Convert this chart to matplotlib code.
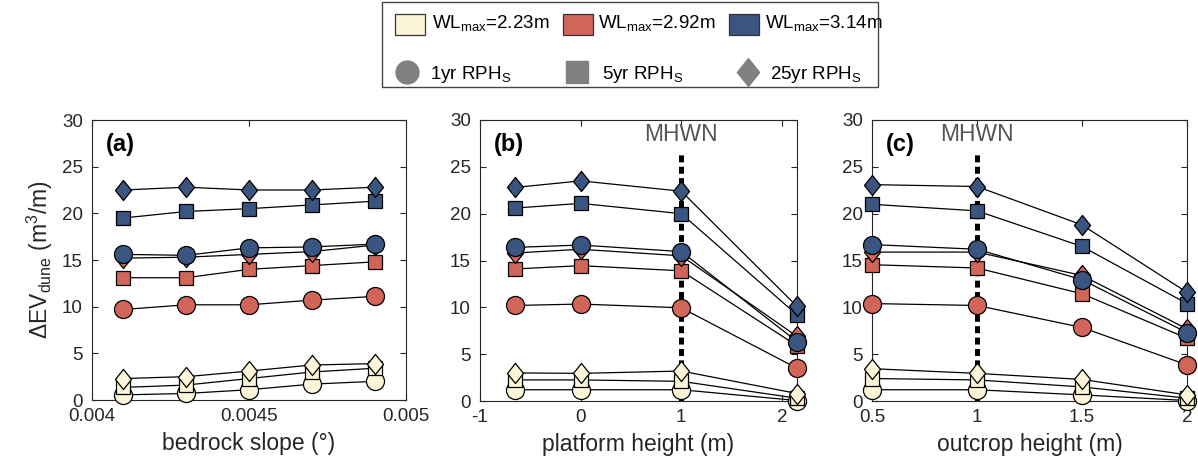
import matplotlib
matplotlib.use("Agg")
import matplotlib.pyplot as plt
from matplotlib.patches import Rectangle
from matplotlib.path import Path

plt.rcParams['font.family'] = ['Liberation Sans', 'DejaVu Sans']
plt.rcParams['mathtext.fontset'] = 'custom'
plt.rcParams['mathtext.rm'] = 'Liberation Sans'
plt.rcParams['mathtext.it'] = 'Liberation Sans:italic'
plt.rcParams['mathtext.bf'] = 'Liberation Sans:bold'
plt.rcParams['lines.scale_dashes'] = False

# ---- data -------------------------------------------------------------
water_levels = ['2.23', '2.92', '3.14']
return_periods = ['1yr', '5yr', '25yr']

slope = [0.0041, 0.0043, 0.0045, 0.0047, 0.0049]
platform = [-0.65, 0, 1, 2.15]
outcrop = [0.5, 1, 1.5, 2]

# rows: 1yr, 5yr, 25yr return-period wave heights
a_wl223 = [[0.55, 0.7, 1.1, 1.7, 2.0], [1.35, 1.6, 2.3, 3.0, 3.4], [2.3, 2.5, 3.1, 3.75, 3.9]]
a_wl292 = [[9.7, 10.2, 10.2, 10.7, 11.1], [13.1, 13.1, 14.0, 14.4, 14.8], [15.2, 15.3, 15.6, 15.9, 16.6]]
a_wl314 = [[15.6, 15.5, 16.3, 16.4, 16.7], [19.5, 20.2, 20.5, 20.9, 21.3], [22.5, 22.8, 22.5, 22.5, 22.8]]

b_wl223 = [[1.2, 1.2, 1.2, 0.05], [2.25, 2.25, 2.1, 0.3], [3.0, 2.95, 3.2, 0.8]]
b_wl292 = [[10.2, 10.35, 9.95, 3.5], [14.1, 14.45, 13.9, 5.9], [15.8, 16.2, 15.5, 6.9]]
b_wl314 = [[16.4, 16.65, 15.95, 6.35], [20.6, 21.1, 20.0, 9.2], [22.8, 23.5, 22.4, 10.1]]

c_wl223 = [[1.2, 1.2, 0.65, 0.05], [2.4, 2.25, 1.5, 0.3], [3.45, 2.95, 2.3, 0.65]]
c_wl292 = [[10.4, 10.2, 7.85, 3.85], [14.55, 14.2, 11.45, 6.7], [15.9, 15.9, 13.4, 7.7]]
c_wl314 = [[16.7, 16.2, 12.95, 7.3], [21.0, 20.3, 16.5, 10.4], [23.1, 22.9, 18.8, 11.6]]

mhwn_level = 1.0

# ---- styles ------------------------------------------------------------
wl_colors = ['#FDF5D8', '#D1655A', '#3A5580']
diamond = Path([(0, 1), (0.8, 0), (0, -1), (-0.8, 0), (0, 1)],
               [Path.MOVETO, Path.LINETO, Path.LINETO, Path.LINETO, Path.CLOSEPOLY])
markers = ['o', 's', diamond]
msizes = [13, 10.5, 14.5]
ink = '#262626'

W, H = 1198, 461
fig = plt.figure(figsize=(W / 100, H / 100), dpi=100)


def frac(left, right, top, bottom):
    return [left / W, 1 - bottom / H, (right - left) / W, (bottom - top) / H]


panels = [
    dict(rect=frac(92, 406, 120, 400), x=slope, data=[a_wl223, a_wl292, a_wl314],
         xlim=(0.004, 0.005), xticks=[0.004, 0.0045, 0.005],
         xticklabels=['0.004', '0.0045', '0.005'], xlabel='bedrock slope (°)',
         tag='(a)', mhwn=False),
    dict(rect=frac(480, 797, 120, 401), x=platform, data=[b_wl223, b_wl292, b_wl314],
         xlim=(-1, 2.15), xticks=[-1, 0, 1, 2], xticklabels=['-1', '0', '1', '2'],
         xlabel='platform height (m)', tag='(b)', mhwn=True),
    dict(rect=frac(872, 1187, 120, 401), x=outcrop, data=[c_wl223, c_wl292, c_wl314],
         xlim=(0.5, 2), xticks=[0.5, 1, 1.5, 2], xticklabels=['0.5', '1', '1.5', '2'],
         xlabel='outcrop height (m)', tag='(c)', mhwn=True),
]

for i, p in enumerate(panels):
    ax = fig.add_axes(p['rect'])
    ax.set_xlim(*p['xlim'])
    ax.set_ylim(0, 30)
    ax.set_yticks([0, 5, 10, 15, 20, 25, 30])
    ax.set_xticks(p['xticks'])
    ax.set_xticklabels(p['xticklabels'])
    ax.tick_params(direction='in', top=True, right=True, length=4, width=0.8,
                   labelsize=13.5, colors=ink)
    ax.tick_params(axis='y', pad=6.5)
    ax.tick_params(axis='x', pad=6.0)
    for s in ax.spines.values():
        s.set_color(ink)
        s.set_linewidth(0.8)
    ax.set_xlabel(p['xlabel'], fontsize=16.5, color=ink, labelpad=5)
    if i == 0:
        ax.set_ylabel('ΔEV$_{\\rm dune}$ (m$^3$/m)', fontsize=16.5, color=ink, labelpad=5)

    if p['mhwn']:
        ax.plot([mhwn_level, mhwn_level], [0, 26.5], color='black', lw=3.6,
                linestyle=(0, (5.0, 3.2)), zorder=2, clip_on=False,
                dash_capstyle='butt')
        ax.text(mhwn_level, 28.4, 'MHWN', ha='center', va='center', fontsize=16.5,
                color='#555555')

    z = 3
    for wl, block in enumerate(p['data']):
        for rp, yvals in enumerate(block):
            ax.plot(p['x'], yvals, color='black', lw=0.9, marker=markers[rp],
                    markersize=msizes[rp], markerfacecolor=wl_colors[wl],
                    markeredgecolor='black', markeredgewidth=0.9, clip_on=False, zorder=z)
            z += 1

    ax.text(0.045, 0.955, p['tag'], transform=ax.transAxes, ha='left', va='top',
            fontsize=17, fontweight='bold', color='black')

# ---- legend box ----------------------------------------------------------
lg = fig.add_axes([0, 0, 1, 1], zorder=50)
lg.set_xlim(0, W)
lg.set_ylim(H, 0)
lg.axis('off')
lg.add_patch(Rectangle((382, 2), 496, 85, facecolor='white', edgecolor='#444444', lw=1))

patch_x = [395, 563, 729]
text_x1 = [432, 598, 765]
for k, wl in enumerate(water_levels):
    lg.add_patch(Rectangle((patch_x[k], 14), 30, 21, facecolor=wl_colors[k],
                           edgecolor='#333333', lw=0.9))
    lg.text(text_x1[k], 28, 'WL$_{\\rm max}$=' + wl + 'm', fontsize=13.5,
            ha='left', va='baseline', color='black')

marker_x = [407, 577, 748]
text_x2 = [430, 602, 770]
leg_ms = [16.5, 15.5, 20]
for k, rp in enumerate(return_periods):
    lg.plot([marker_x[k]], [72], marker=markers[k], markersize=leg_ms[k],
            color='#808080', markeredgecolor='#808080', linestyle='none')
    lg.text(text_x2[k], 79, rp + ' RPH$_{\\rm S}$', fontsize=13.5,
            ha='left', va='baseline', color='black')

fig.savefig('out.png', dpi=100)
